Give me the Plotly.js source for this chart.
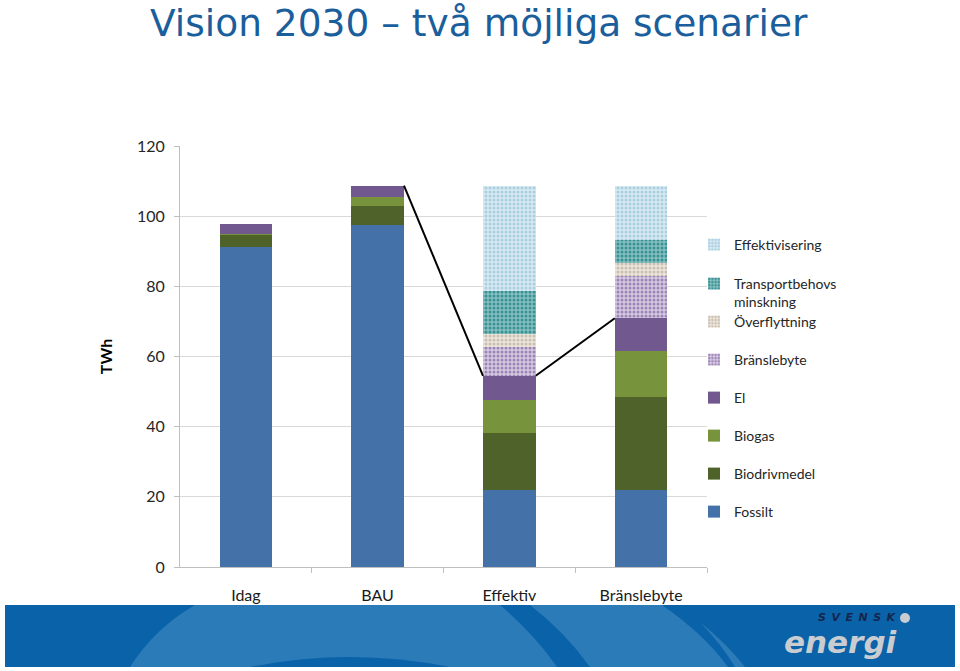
<!DOCTYPE html>
<html>
<head>
<meta charset="utf-8">
<script src="https://cdn.plot.ly/plotly-3.0.1.min.js"></script>
<style>html,body{margin:0;padding:0;background:#fff;}#chart{width:960px;height:671px;}</style>
</head>
<body>
<div id="chart"></div>
<script>
// ---- data ----
const categories = ['Idag', 'BAU', 'Effektiv', 'Bränslebyte'];
const fossilt = [91.2, 97.5, 21.9, 21.9];
const biodrivmedel = [3.4, 5.4, 16.2, 26.5];
const biogas = [0.3, 2.5, 9.5, 13.2];
const el = [2.9, 3.3, 6.9, 9.3];
const branslebyte = [0, 0, 8.1, 12.1];
const overflyttning = [0, 0, 3.8, 3.6];
const transportbehov = [0, 0, 12.3, 6.6];
const effektivisering = [0, 0, 30.0, 15.5];
const yTicks = [0, 20, 40, 60, 80, 100, 120];

// ---- layout helpers ----
const W = 960, H = 671;
const PL = 180, PR = 707, PT = 146, PB = 567;
const px = x => (x - PL) / (PR - PL);
const py = y => (PB - y) / (PB - PT);
const P = (x, y) => px(x).toFixed(5) + ',' + py(y).toFixed(5);

const xpos = categories.map((c, i) => i);
const barW = 0.4;
const font = 'Lato, "Open Sans", sans-serif';

function solid(name, vals, color, lg) {
  return {type: 'bar', name: name, x: xpos, y: vals, width: barW,
    marker: {color: color, line: {width: 0}}, legend: lg, hoverinfo: 'skip'};
}
function patt(name, vals, bg, fg, lg) {
  return {type: 'bar', name: name, x: xpos, y: vals, width: barW,
    marker: {color: bg, line: {width: 0},
      pattern: {shape: '.', bgcolor: bg, fgcolor: fg, size: 4, solidity: 0.45}},
    legend: lg, hoverinfo: 'skip'};
}

const traces = [
  solid('Fossilt', fossilt, '#4472a8', 'legend8'),
  solid('Biodrivmedel', biodrivmedel, '#4f6229', 'legend7'),
  solid('Biogas', biogas, '#77933c', 'legend6'),
  solid('El', el, '#71588f', 'legend5'),
  patt('Bränslebyte', branslebyte, '#d6cae2', '#9c84b6', 'legend4'),
  patt('Överflyttning', overflyttning, '#ece6dc', '#c9bfb1', 'legend3'),
  patt('Transportbehovs<br>minskning', transportbehov, '#86c0c1', '#3a9193', 'legend2'),
  patt('Effektivisering', effektivisering, '#d8eaf2', '#a9cfe0', 'legend'),
];

// line connecting the supply level (fossilt+bio+biogas+el) between bars
const supply = xpos.map(i => fossilt[i] + biodrivmedel[i] + biogas[i] + el[i]);
traces.push({
  type: 'scatter', mode: 'lines', showlegend: false, hoverinfo: 'skip',
  x: [1 + barW / 2, 2 - barW / 2, null, 2 + barW / 2, 3 - barW / 2],
  y: [supply[1], supply[2], null, supply[2], supply[3]],
  line: {color: '#000', width: 2}, connectgaps: false
});

// legends positioned individually
const legendRows = [245, 284, 322, 360, 398, 436, 474, 512];
const legendLayouts = {};
legendRows.forEach((yy, k) => {
  const key = k === 0 ? 'legend' : 'legend' + (k + 1);
  const two = (k === 1);
  legendLayouts[key] = {
    xref: 'container', yref: 'container',
    x: 694 / W, y: 1 - (two ? yy - 16 : yy) / H,
    xanchor: 'left', yanchor: two ? 'top' : 'middle',
    valign: 'top',
    bgcolor: 'rgba(0,0,0,0)', borderwidth: 0,
    font: {family: font, size: 14, color: '#262626'},
    itemclick: false, itemdoubleclick: false
  };
});

// banner decoration
const shapes = [
  {type: 'rect', xref: 'paper', yref: 'paper', x0: px(5), x1: px(955), y0: py(667), y1: py(605),
   fillcolor: '#0a63a8', line: {width: 0}, layer: 'below'},
  {type: 'path', xref: 'paper', yref: 'paper', layer: 'below', fillcolor: '#2b7bb9', line: {width: 0},
   path: 'M' + P(195, 605) + ' L' + P(500, 605) + ' Q' + P(535, 635) + ' ' + P(557, 667) +
         ' L' + P(130, 667) + ' Q' + P(155, 628) + ' ' + P(195, 605) + ' Z'},
  {type: 'path', xref: 'paper', yref: 'paper', layer: 'below', fillcolor: '#2b7bb9', line: {width: 0},
   path: 'M' + P(530, 605) + ' L' + P(662, 605) + ' Q' + P(705, 635) + ' ' + P(728, 667) +
         ' L' + P(590, 667) + ' Q' + P(565, 632) + ' ' + P(530, 605) + ' Z'},
  {type: 'path', xref: 'paper', yref: 'paper', layer: 'below', fillcolor: '#2b7bb9', line: {width: 0},
   path: 'M' + P(700, 622) + ' Q' + P(728, 645) + ' ' + P(745, 667) + ' L' + P(735, 667) +
         ' Q' + P(722, 645) + ' ' + P(700, 622) + ' Z'},
  {type: 'path', xref: 'paper', yref: 'paper', layer: 'below', fillcolor: '#0a63a8', line: {width: 0},
   path: 'M' + P(250, 667) + ' Q' + P(350, 647) + ' ' + P(450, 667) + ' Z'},
  {type: 'circle', xref: 'paper', yref: 'paper', x0: px(900), x1: px(910), y0: py(623), y1: py(613),
   fillcolor: '#c9ccd0', line: {width: 0}}
];

const annotations = [
  {xref: 'paper', yref: 'paper', x: px(857), y: py(617), text: 'S\u2002V\u2002E\u2002N\u2002S\u2002K', showarrow: false,
   xanchor: 'center', yanchor: 'middle',
   font: {family: '"DejaVu Sans", sans-serif', size: 11, color: '#14264d', weight: 'bold', style: 'italic'}},
  {xref: 'paper', yref: 'paper', x: px(841), y: py(642), text: 'energi', showarrow: false,
   xanchor: 'center', yanchor: 'middle',
   font: {family: '"DejaVu Sans", sans-serif', size: 31, color: '#c9ccd0', weight: 'bold', style: 'italic'}}
];

const layout = Object.assign({
  width: W, height: H,
  margin: {l: PL, r: W - PR, t: PT, b: H - PB, pad: 0, autoexpand: false},
  paper_bgcolor: '#fff', plot_bgcolor: '#fff',
  barmode: 'stack', bargap: 0,
  title: {text: 'Vision 2030 – två möjliga scenarier', xref: 'container', yref: 'container',
    x: 150 / W, xanchor: 'left', y: 1 - 23 / H, yanchor: 'middle', automargin: false,
    font: {family: '"DejaVu Sans", sans-serif', size: 37.5, color: '#1b5e9c'}},
  xaxis: {range: [-0.5, 3.5], tickmode: 'array', tickvals: xpos, ticktext: categories,
    ticks: '', showgrid: false, zeroline: false, showline: true, linecolor: '#bfbfbf', linewidth: 1,
    ticklabelstandoff: 14,
    minor: {tickmode: 'array', tickvals: [0.5, 1.5, 2.5, 3.5], ticks: 'outside', ticklen: 5, tickcolor: '#bfbfbf', showgrid: false},
    tickfont: {family: font, size: 16, color: '#1a1a1a', weight: 'normal'}, fixedrange: true},
  yaxis: {range: [0, 120], tickmode: 'array', tickvals: yTicks, ticks: 'outside', ticklen: 5, tickcolor: '#bfbfbf',
    showgrid: true, gridcolor: '#d9d9d9', gridwidth: 1, zeroline: false,
    showline: true, linecolor: '#bfbfbf', linewidth: 1, ticklabelstandoff: 6,
    tickfont: {family: font, size: 16, color: '#262626'},
    title: {text: '<b>TWh</b>', standoff: 20, font: {family: font, size: 16, color: '#000'}}, fixedrange: true},
  shapes: shapes,
  annotations: annotations,
  showlegend: true
}, legendLayouts);

Plotly.newPlot('chart', traces, layout, {displayModeBar: false, staticPlot: true});
</script>
</body>
</html>
